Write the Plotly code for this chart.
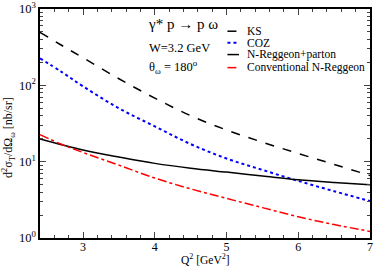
import plotly.graph_objects as go

q2 = [2.4, 2.7, 3.0, 3.5, 4.0, 4.5, 5.0, 5.5, 6.0, 6.5, 7.0]
ks = [495, 335, 230, 122, 68, 40, 26, 18, 12.8, 9.2, 6.6]
coz = [226, 150, 97, 50, 29, 17, 11, 7.8, 5.6, 4.1, 3.05]
nreg_parton = [19.8, 16.7, 14.2, 11.5, 9.5, 8.2, 7.3, 6.5, 5.8, 5.35, 5.0]
conv_nreg = [22.5, 16.9, 13.2, 9.0, 6.1, 4.4, 3.3, 2.5, 1.9, 1.5, 1.22]

series_names = ["KS", "COZ", "N-Reggeon+parton", "Conventional N-Reggeon"]
series_vals = [ks, coz, nreg_parton, conv_nreg]
colors = ["black", "#0000ff", "black", "#ff0000"]
dashes = ["dash", "dot", "solid", "dashdot"]
widths = [1.5, 2.0, 1.5, 1.5]

ytick_vals = [1, 10, 100, 1000]
ytick_text = ["10<sup>0</sup>", "10<sup>1</sup>", "10<sup>2</sup>", "10<sup>3</sup>"]
yminor = [m * 10 ** k for k in range(0, 3) for m in range(2, 10)]

FONT = "Liberation Serif, Times New Roman, serif"

fig = go.Figure()
for name, vals, c, d, w in zip(series_names, series_vals, colors, dashes, widths):
    fig.add_trace(go.Scatter(x=q2, y=vals, mode="lines", name=name,
                             line=dict(color=c, dash=d, width=w, shape="spline"),
                             showlegend=False))

# manual legend
leg_y = [0.903, 0.853, 0.801, 0.744]
for name, c, d, w, yy in zip(series_names, colors, dashes, widths, leg_y):
    fig.add_shape(type="line", xref="paper", yref="paper", x0=0.568, x1=0.603,
                  y0=yy, y1=yy, line=dict(color=c, dash=d, width=w))
    fig.add_annotation(xref="paper", yref="paper", x=0.62, y=yy, text=name,
                       showarrow=False, xanchor="left", yanchor="middle",
                       font=dict(family=FONT, size=11.5, color="black"))

fig.add_annotation(xref="paper", yref="paper", x=0.32, y=0.935,
                   text="γ* p → p ω", showarrow=False, xanchor="left", yanchor="middle",
                   font=dict(family=FONT, size=15, color="black"))
fig.add_annotation(xref="paper", yref="paper", x=0.325, y=0.83,
                   text="W=3.2 GeV", showarrow=False, xanchor="left", yanchor="middle",
                   font=dict(family=FONT, size=12.5, color="black"))
fig.add_annotation(xref="paper", yref="paper", x=0.325, y=0.745,
                   text="θ<sub>ω</sub> = 180<sup>o</sup>", showarrow=False, xanchor="left", yanchor="middle",
                   font=dict(family=FONT, size=12.5, color="black"))

# axis titles
fig.add_annotation(xref="paper", yref="paper", x=0.5, y=-0.128,
                   text="Q<sup>2</sup> [GeV<sup>2</sup>]", showarrow=False,
                   xanchor="center", yanchor="bottom", borderpad=0,
                   font=dict(family=FONT, size=11.5, color="black"))
fig.add_annotation(xref="paper", yref="paper", x=-0.095, y=0.44, textangle=-90,
                   text="d<sup>2</sup>σ<sub>T</sub>/dΩ<sub>ω</sub> [nb/sr]", showarrow=False,
                   xanchor="center", yanchor="middle",
                   font=dict(family=FONT, size=12, color="black"))

fig.update_xaxes(range=[2.4, 7], tick0=3, dtick=1, ticks="inside", ticklen=6, tickwidth=1,
                 minor=dict(ticks="inside", dtick=0.2, tick0=3, ticklen=3, showgrid=False),
                 showline=True, linecolor="black", linewidth=1.5, mirror="allticks",
                 showgrid=False, zeroline=False, automargin=False, ticklabelstandoff=-3,
                 tickfont=dict(family=FONT, size=12, color="black"))
fig.update_yaxes(type="log", range=[0, 3], tickvals=ytick_vals, ticktext=ytick_text,
                 ticks="inside", ticklen=6, tickwidth=1,
                 minor=dict(ticks="inside", tickvals=yminor, ticklen=3, showgrid=False),
                 showline=True, linecolor="black", linewidth=1.5, mirror="allticks",
                 showgrid=False, zeroline=False, automargin=False,
                 tickfont=dict(family=FONT, size=12.5, color="black"))

fig.update_layout(width=374, height=269, margin=dict(l=40, r=4, t=9, b=31),
                  plot_bgcolor="white", paper_bgcolor="white",
                  font=dict(family=FONT, color="black"))

fig.write_html("out.html", config={"displayModeBar": False},
               post_script="document.body.style.margin='0';document.body.style.padding='0';")
